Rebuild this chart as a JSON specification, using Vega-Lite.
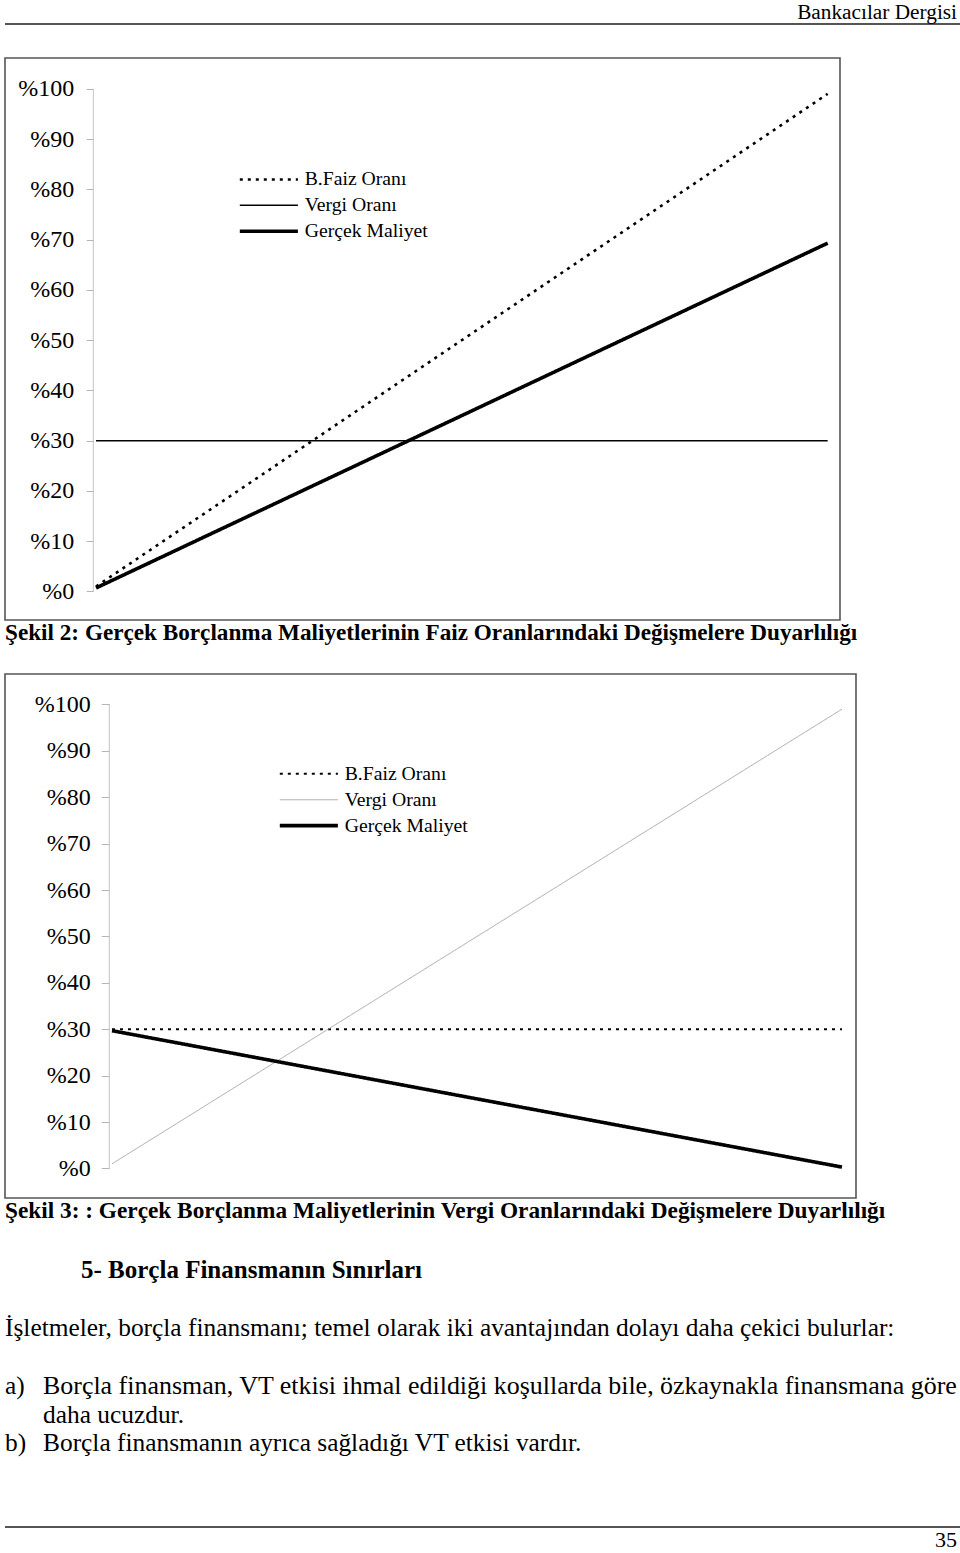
{
  "$schema": "https://vega.github.io/schema/vega-lite/v6.json",
  "padding": {"left": 4, "top": 1, "right": 0, "bottom": 0},
  "background": "white",
  "spacing": 28,
  "config": {
    "font": "Liberation Serif",
    "view": {"stroke": null},
    "title": {"color": "#000", "font": "Liberation Serif"}
  },
  "resolve": {
    "scale": {"color": "independent", "strokeDash": "independent", "strokeWidth": "independent"},
    "legend": {"color": "independent", "strokeDash": "independent", "strokeWidth": "independent"}
  },
  "datasets": {
    "sekil2": [
      {"t":1,"faiz":1,"vergi":30,"gercek":0.7},{"t":3,"faiz":3,"vergi":30,"gercek":2.1},{"t":5,"faiz":5,"vergi":30,"gercek":3.5},{"t":7,"faiz":7,"vergi":30,"gercek":4.9},{"t":9,"faiz":9,"vergi":30,"gercek":6.3},
      {"t":11,"faiz":11,"vergi":30,"gercek":7.7},{"t":13,"faiz":13,"vergi":30,"gercek":9.1},{"t":15,"faiz":15,"vergi":30,"gercek":10.5},{"t":17,"faiz":17,"vergi":30,"gercek":11.9},{"t":19,"faiz":19,"vergi":30,"gercek":13.3},
      {"t":21,"faiz":21,"vergi":30,"gercek":14.7},{"t":23,"faiz":23,"vergi":30,"gercek":16.1},{"t":25,"faiz":25,"vergi":30,"gercek":17.5},{"t":27,"faiz":27,"vergi":30,"gercek":18.9},{"t":29,"faiz":29,"vergi":30,"gercek":20.3},
      {"t":31,"faiz":31,"vergi":30,"gercek":21.7},{"t":33,"faiz":33,"vergi":30,"gercek":23.1},{"t":35,"faiz":35,"vergi":30,"gercek":24.5},{"t":37,"faiz":37,"vergi":30,"gercek":25.9},{"t":39,"faiz":39,"vergi":30,"gercek":27.3},
      {"t":41,"faiz":41,"vergi":30,"gercek":28.7},{"t":43,"faiz":43,"vergi":30,"gercek":30.1},{"t":45,"faiz":45,"vergi":30,"gercek":31.5},{"t":47,"faiz":47,"vergi":30,"gercek":32.9},{"t":49,"faiz":49,"vergi":30,"gercek":34.3},
      {"t":51,"faiz":51,"vergi":30,"gercek":35.7},{"t":53,"faiz":53,"vergi":30,"gercek":37.1},{"t":55,"faiz":55,"vergi":30,"gercek":38.5},{"t":57,"faiz":57,"vergi":30,"gercek":39.9},{"t":59,"faiz":59,"vergi":30,"gercek":41.3},
      {"t":61,"faiz":61,"vergi":30,"gercek":42.7},{"t":63,"faiz":63,"vergi":30,"gercek":44.1},{"t":65,"faiz":65,"vergi":30,"gercek":45.5},{"t":67,"faiz":67,"vergi":30,"gercek":46.9},{"t":69,"faiz":69,"vergi":30,"gercek":48.3},
      {"t":71,"faiz":71,"vergi":30,"gercek":49.7},{"t":73,"faiz":73,"vergi":30,"gercek":51.1},{"t":75,"faiz":75,"vergi":30,"gercek":52.5},{"t":77,"faiz":77,"vergi":30,"gercek":53.9},{"t":79,"faiz":79,"vergi":30,"gercek":55.3},
      {"t":81,"faiz":81,"vergi":30,"gercek":56.7},{"t":83,"faiz":83,"vergi":30,"gercek":58.1},{"t":85,"faiz":85,"vergi":30,"gercek":59.5},{"t":87,"faiz":87,"vergi":30,"gercek":60.9},{"t":89,"faiz":89,"vergi":30,"gercek":62.3},
      {"t":91,"faiz":91,"vergi":30,"gercek":63.7},{"t":93,"faiz":93,"vergi":30,"gercek":65.1},{"t":95,"faiz":95,"vergi":30,"gercek":66.5},{"t":97,"faiz":97,"vergi":30,"gercek":67.9},{"t":99,"faiz":99,"vergi":30,"gercek":69.3}
    ],
    "sekil3": [
      {"t":1,"faiz":30,"vergi":1,"gercek":29.7},{"t":3,"faiz":30,"vergi":3,"gercek":29.1},{"t":5,"faiz":30,"vergi":5,"gercek":28.5},{"t":7,"faiz":30,"vergi":7,"gercek":27.9},{"t":9,"faiz":30,"vergi":9,"gercek":27.3},
      {"t":11,"faiz":30,"vergi":11,"gercek":26.7},{"t":13,"faiz":30,"vergi":13,"gercek":26.1},{"t":15,"faiz":30,"vergi":15,"gercek":25.5},{"t":17,"faiz":30,"vergi":17,"gercek":24.9},{"t":19,"faiz":30,"vergi":19,"gercek":24.3},
      {"t":21,"faiz":30,"vergi":21,"gercek":23.7},{"t":23,"faiz":30,"vergi":23,"gercek":23.1},{"t":25,"faiz":30,"vergi":25,"gercek":22.5},{"t":27,"faiz":30,"vergi":27,"gercek":21.9},{"t":29,"faiz":30,"vergi":29,"gercek":21.3},
      {"t":31,"faiz":30,"vergi":31,"gercek":20.7},{"t":33,"faiz":30,"vergi":33,"gercek":20.1},{"t":35,"faiz":30,"vergi":35,"gercek":19.5},{"t":37,"faiz":30,"vergi":37,"gercek":18.9},{"t":39,"faiz":30,"vergi":39,"gercek":18.3},
      {"t":41,"faiz":30,"vergi":41,"gercek":17.7},{"t":43,"faiz":30,"vergi":43,"gercek":17.1},{"t":45,"faiz":30,"vergi":45,"gercek":16.5},{"t":47,"faiz":30,"vergi":47,"gercek":15.9},{"t":49,"faiz":30,"vergi":49,"gercek":15.3},
      {"t":51,"faiz":30,"vergi":51,"gercek":14.7},{"t":53,"faiz":30,"vergi":53,"gercek":14.1},{"t":55,"faiz":30,"vergi":55,"gercek":13.5},{"t":57,"faiz":30,"vergi":57,"gercek":12.9},{"t":59,"faiz":30,"vergi":59,"gercek":12.3},
      {"t":61,"faiz":30,"vergi":61,"gercek":11.7},{"t":63,"faiz":30,"vergi":63,"gercek":11.1},{"t":65,"faiz":30,"vergi":65,"gercek":10.5},{"t":67,"faiz":30,"vergi":67,"gercek":9.9},{"t":69,"faiz":30,"vergi":69,"gercek":9.3},
      {"t":71,"faiz":30,"vergi":71,"gercek":8.7},{"t":73,"faiz":30,"vergi":73,"gercek":8.1},{"t":75,"faiz":30,"vergi":75,"gercek":7.5},{"t":77,"faiz":30,"vergi":77,"gercek":6.9},{"t":79,"faiz":30,"vergi":79,"gercek":6.3},
      {"t":81,"faiz":30,"vergi":81,"gercek":5.7},{"t":83,"faiz":30,"vergi":83,"gercek":5.1},{"t":85,"faiz":30,"vergi":85,"gercek":4.5},{"t":87,"faiz":30,"vergi":87,"gercek":3.9},{"t":89,"faiz":30,"vergi":89,"gercek":3.3},
      {"t":91,"faiz":30,"vergi":91,"gercek":2.7},{"t":93,"faiz":30,"vergi":93,"gercek":2.1},{"t":95,"faiz":30,"vergi":95,"gercek":1.5},{"t":97,"faiz":30,"vergi":97,"gercek":0.9},{"t":99,"faiz":30,"vergi":99,"gercek":0.3}
    ],
    "metin": [
      {"line":0,"kind":"heading","marker":"","text":"5- Borçla Finansmanın Sınırları"},
      {"line":2,"kind":"para","marker":"","text":"İşletmeler, borçla finansmanı; temel olarak iki avantajından dolayı daha çekici bulurlar:"},
      {"line":4,"kind":"justified","marker":"a)","text":"Borçla finansman, VT etkisi ihmal edildiği koşullarda bile, özkaynakla finansmana göre"},
      {"line":5,"kind":"item","marker":"","text":"daha ucuzdur."},
      {"line":6,"kind":"item","marker":"b)","text":"Borçla finansmanın ayrıca sağladığı VT etkisi vardır."}
    ]
  },
  "vconcat": [
    {
      "width": 956,
      "height": 4.5,
      "title": {"text": "Bankacılar Dergisi", "anchor": "end", "orient": "top", "fontSize": 21.3, "fontWeight": "normal", "offset": 0, "dx": -5},
      "data": {"values": [{"part": "header"}]},
      "mark": {"type": "rule", "color": "#555", "strokeWidth": 2},
      "encoding": {"y": {"datum": 1, "type": "quantitative", "scale": {"domain": [0, 1]}, "axis": null}}
    },
    {
      "width": 835,
      "height": 562,
      "view": {"stroke": "#555", "strokeWidth": 1.6},
      "title": {"text": "Şekil 2: Gerçek Borçlanma Maliyetlerinin Faiz Oranlarındaki Değişmelere Duyarlılığı", "orient": "bottom", "anchor": "start", "fontSize": 23.2, "fontWeight": "bold", "offset": 2},
      "layer": [
        {
          "data": {"values": [{"axis": "y"}]},
          "mark": {"type": "rule", "color": "#c4c4c4", "strokeWidth": 1},
          "encoding": {
            "x": {"datum": 0.64, "type": "quantitative", "scale": {"domain": [-11.19, 100.65], "nice": false, "zero": false}, "axis": null},
            "y": {"datum": 0, "type": "quantitative", "scale": {"domain": [-5.67, 106.13], "nice": false, "zero": false},
                  "axis": {"orient": "left", "offset": -88.3, "domain": false, "grid": false, "title": null, "values": [0,10,20,30,40,50,60,70,80,90,100], "labelExpr": "'%' + datum.value", "labelFont": "Liberation Serif", "labelFontSize": 24, "labelColor": "#000", "tickColor": "#b5b5b5", "tickSize": 7, "tickWidth": 1, "labelPadding": 12.6}},
            "y2": {"datum": 100}
          }
        },
        {
          "data": {"name": "sekil2"},
          "transform": [{"fold": ["faiz", "vergi", "gercek"], "as": ["series", "value"]}],
          "mark": {"type": "line", "strokeCap": "butt"},
          "encoding": {
            "x": {"field": "t", "type": "quantitative", "scale": {"domain": [-11.19, 100.65], "nice": false, "zero": false}, "axis": null},
            "y": {"field": "value", "type": "quantitative", "scale": {"domain": [-5.67, 106.13], "nice": false, "zero": false},
                  "axis": {"orient": "left", "offset": -88.3, "domain": false, "grid": false, "title": null, "values": [0,10,20,30,40,50,60,70,80,90,100], "labelExpr": "'%' + datum.value", "labelFont": "Liberation Serif", "labelFontSize": 24, "labelColor": "#000", "tickColor": "#b5b5b5", "tickSize": 7, "tickWidth": 1, "labelPadding": 12.6}},
            "color": {"field": "series", "type": "nominal", "scale": {"domain": ["faiz", "vergi", "gercek"], "range": ["#000", "#000", "#000"]},
                      "legend": {"orient": "none", "legendX": 254, "legendY": 111.6, "title": null, "padding": 0, "symbolType": "M-5,0H5", "symbolSize": 135, "labelFont": "Liberation Serif", "labelFontSize": 19.7, "labelColor": "#000", "labelOffset": 26, "rowPadding": 4.9, "labelExpr": "datum.label == 'faiz' ? 'B.Faiz Oranı' : datum.label == 'vergi' ? 'Vergi Oranı' : 'Gerçek Maliyet'"}},
            "strokeDash": {"field": "series", "type": "nominal", "scale": {"type": "ordinal", "domain": ["faiz", "vergi", "gercek"], "range": [[3, 5], [1, 0], [1, 0]]}},
            "strokeWidth": {"field": "series", "type": "nominal", "scale": {"type": "ordinal", "domain": ["faiz", "vergi", "gercek"], "range": [2.6, 1.5, 3.6]}}
          }
        }
      ]
    },
    {
      "width": 851,
      "height": 524,
      "view": {"stroke": "#555", "strokeWidth": 1.6},
      "title": {"text": "Şekil 3: : Gerçek Borçlanma Maliyetlerinin  Vergi Oranlarındaki Değişmelere Duyarlılığı", "orient": "bottom", "anchor": "start", "fontSize": 23.3, "fontWeight": "bold", "offset": 2},
      "layer": [
        {
          "data": {"values": [{"axis": "y"}]},
          "mark": {"type": "rule", "color": "#c4c4c4", "strokeWidth": 1},
          "encoding": {
            "x": {"datum": 0.64, "type": "quantitative", "scale": {"domain": [-13.36, 100.88], "nice": false, "zero": false}, "axis": null},
            "y": {"datum": 0, "type": "quantitative", "scale": {"domain": [-6.36, 106.57], "nice": false, "zero": false},
                  "axis": {"orient": "left", "offset": -104.3, "domain": false, "grid": false, "title": null, "values": [0,10,20,30,40,50,60,70,80,90,100], "labelExpr": "'%' + datum.value", "labelFont": "Liberation Serif", "labelFontSize": 24, "labelColor": "#000", "tickColor": "#b5b5b5", "tickSize": 8, "tickWidth": 1, "labelPadding": 11}},
            "y2": {"datum": 100}
          }
        },
        {
          "data": {"name": "sekil3"},
          "transform": [{"fold": ["faiz", "vergi", "gercek"], "as": ["series", "value"]}],
          "mark": {"type": "line", "strokeCap": "butt"},
          "encoding": {
            "x": {"field": "t", "type": "quantitative", "scale": {"domain": [-13.36, 100.88], "nice": false, "zero": false}, "axis": null},
            "y": {"field": "value", "type": "quantitative", "scale": {"domain": [-6.36, 106.57], "nice": false, "zero": false},
                  "axis": {"orient": "left", "offset": -104.3, "domain": false, "grid": false, "title": null, "values": [0,10,20,30,40,50,60,70,80,90,100], "labelExpr": "'%' + datum.value", "labelFont": "Liberation Serif", "labelFontSize": 24, "labelColor": "#000", "tickColor": "#b5b5b5", "tickSize": 8, "tickWidth": 1, "labelPadding": 11}},
            "color": {"field": "series", "type": "nominal", "scale": {"domain": ["faiz", "vergi", "gercek"], "range": ["#000", "#a8a8a8", "#000"]},
                      "legend": {"orient": "none", "legendX": 294, "legendY": 90, "title": null, "padding": 0, "symbolType": "M-5,0H5", "symbolSize": 135, "labelFont": "Liberation Serif", "labelFontSize": 19.7, "labelColor": "#000", "labelOffset": 26, "rowPadding": 4.9, "labelExpr": "datum.label == 'faiz' ? 'B.Faiz Oranı' : datum.label == 'vergi' ? 'Vergi Oranı' : 'Gerçek Maliyet'"}},
            "strokeDash": {"field": "series", "type": "nominal", "scale": {"type": "ordinal", "domain": ["faiz", "vergi", "gercek"], "range": [[3, 5], [1, 0], [1, 0]]}},
            "strokeWidth": {"field": "series", "type": "nominal", "scale": {"type": "ordinal", "domain": ["faiz", "vergi", "gercek"], "range": [2, 1, 3.6]}}
          }
        }
      ]
    },
    {
      "width": 956,
      "height": 246,
      "data": {"name": "metin"},
      "encoding": {
        "y": {"field": "line", "type": "quantitative", "scale": {"domain": [-0.638, 7.895], "reverse": true, "nice": false, "zero": false}, "axis": null},
        "x": {"value": 0}
      },
      "layer": [
        {"transform": [{"filter": "datum.kind == 'heading'"}], "mark": {"type": "text", "align": "left", "baseline": "middle", "dx": 76, "fontSize": 25, "fontWeight": "bold", "color": "#000"}, "encoding": {"text": {"field": "text"}}},
        {"transform": [{"filter": "datum.kind == 'para'"}], "mark": {"type": "text", "align": "left", "baseline": "middle", "fontSize": 25.4, "color": "#000"}, "encoding": {"text": {"field": "text"}}},
        {"transform": [{"filter": "datum.marker != ''"}], "mark": {"type": "text", "align": "left", "baseline": "middle", "fontSize": 25.4, "color": "#000"}, "encoding": {"text": {"field": "marker"}}},
        {"transform": [{"filter": "datum.kind == 'item'"}], "mark": {"type": "text", "align": "left", "baseline": "middle", "dx": 38, "fontSize": 25.4, "color": "#000"}, "encoding": {"text": {"field": "text"}}},
        {"transform": [{"filter": "datum.kind == 'justified'"}], "mark": {"type": "text", "align": "left", "baseline": "middle", "dx": 38, "fontSize": 25.95, "color": "#000"}, "encoding": {"text": {"field": "text"}}}
      ]
    },
    {
      "width": 956,
      "height": 1,
      "title": {"text": "35", "anchor": "end", "orient": "bottom", "fontSize": 22, "fontWeight": "normal", "offset": 2, "dx": -5},
      "data": {"values": [{"part": "footer"}]},
      "mark": {"type": "rule", "color": "#555", "strokeWidth": 2},
      "encoding": {"y": {"datum": 1, "type": "quantitative", "scale": {"domain": [0, 1]}, "axis": null}}
    }
  ]
}
